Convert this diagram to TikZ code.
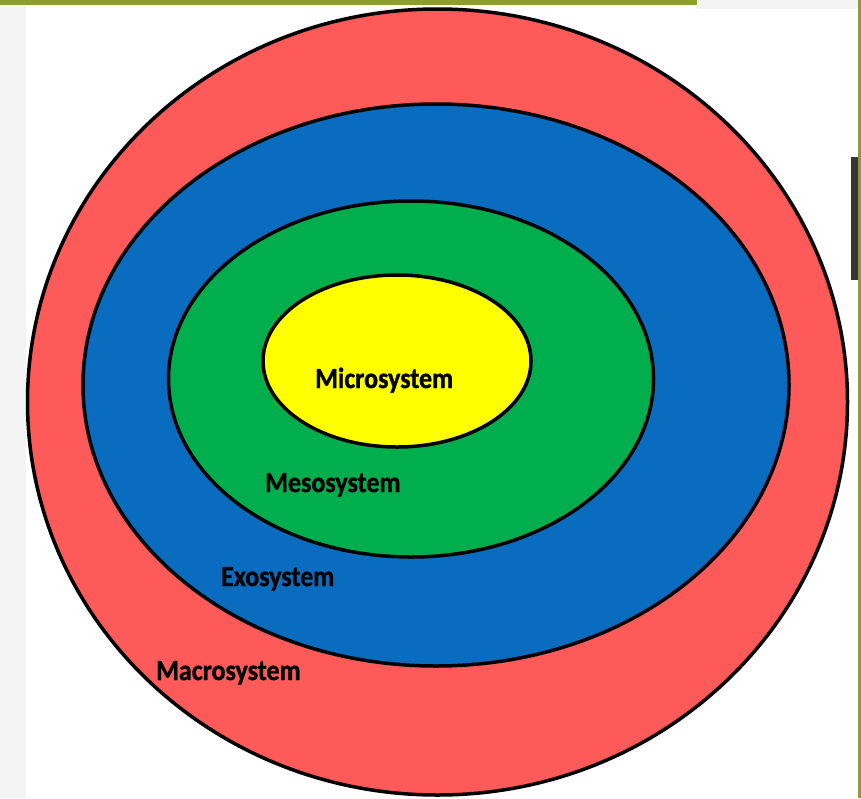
\documentclass[tikz,border=0pt]{standalone}
\usepackage{fontspec}
\setmainfont{Carlito}[BoldFeatures={FakeBold=1.2}]
\usetikzlibrary{shapes.geometric}
\definecolor{ringred}{HTML}{FF5A5A}
\definecolor{ringblue}{HTML}{0A6CBF}
\definecolor{ringgreen}{HTML}{00AE4D}
\definecolor{ringyellow}{HTML}{FFFF00}
\definecolor{oliveline}{HTML}{8C9E30}
\definecolor{darkbar}{HTML}{3A352F}
\definecolor{stripgray}{HTML}{F3F3F3}
\newcommand{\tallbox}[1]{\scalebox{1.0}[1.12]{#1}}
\begin{document}
\begin{tikzpicture}[x=1pt,y=-1pt,
  ring/.style={ellipse, draw=black, line width=3.5pt, inner sep=0pt},
  lab/.style={font=\fontsize{26}{30}\selectfont\bfseries, text=black, inner sep=0pt, anchor=base west}]
\useasboundingbox (0,0) rectangle (861,798);
\fill[white] (0,0) rectangle (861,798);
\fill[stripgray] (0,0) rectangle (26,798);
\fill[stripgray] (697,0) rectangle (858,9);
\fill[oliveline] (0,0) rectangle (697,5);
\fill[oliveline] (858,0) rectangle (861,798);
\fill[darkbar] (851,157) rectangle (858,280);
\node[ring, fill=ringred, minimum width=820, minimum height=786] (macro) at (437.5,402) {};
\node[ring, fill=ringblue, minimum width=706, minimum height=562] (exo) at (436,385) {};
\node[ring, fill=ringgreen, minimum width=485, minimum height=356] (meso) at (411,379) {};
\node[ring, fill=ringyellow, minimum width=268, minimum height=172] (micro) at (397,361) {};
\node[lab] (microlab) at (315,388) {\tallbox{Microsystem}};
\node[lab] (mesolab) at (265,492) {\tallbox{Mesosystem}};
\node[lab] (exolab) at (221,586) {\tallbox{Exosystem}};
\node[lab] (macrolab) at (156,680) {\tallbox{Macrosystem}};
\end{tikzpicture}
\end{document}
